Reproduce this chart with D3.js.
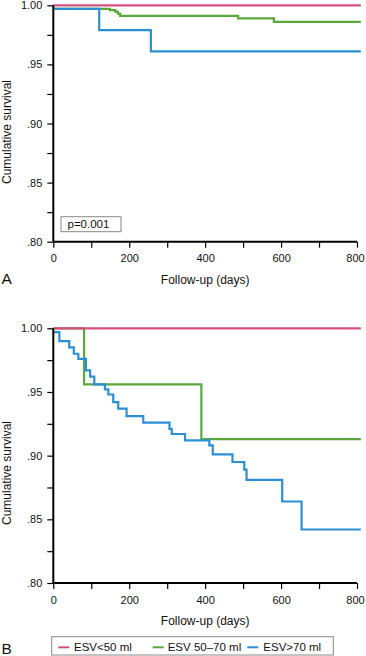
<!DOCTYPE html>
<html>
<head>
<meta charset="utf-8">
<script src="https://cdn.jsdelivr.net/npm/d3@7"></script>
<style>
  html, body { margin: 0; padding: 0; background: #fff; }
  svg { display: block; font-family: "Liberation Sans", Arial, sans-serif; }
</style>
</head>
<body>
<svg id="chart" width="366" height="656"></svg>
<script>
// ---- Data ----
const seriesNames = ["ESV<50 ml", "ESV 50\u201370 ml", "ESV>70 ml"];
const seriesColors = ["#d6507c", "#5aa83c", "#2b8fd6"];

// Panel A
const aRedDays   = [0];
const aRedSurv   = [1.0];
const aGreenDays = [0, 149, 163, 170, 176, 487, 581];
const aGreenSurv = [0.997, 0.996, 0.9946, 0.993, 0.991, 0.989, 0.986];
const aBlueDays  = [0, 121, 257];
const aBlueSurv  = [0.997, 0.979, 0.961];

// Panel B
const bRedDays   = [0];
const bRedSurv   = [1.0];
const bGreenDays = [0, 81, 390];
const bGreenSurv = [1.0, 0.956, 0.913];
const bBlueDays  = [0, 16, 42, 54, 66, 86, 97, 108, 136, 145, 158, 171, 193, 237, 306, 312, 347, 411, 420, 472, 503, 509, 603, 654];
const bBlueSurv  = [0.997, 0.990, 0.985, 0.980, 0.976, 0.967, 0.962, 0.956, 0.952, 0.948, 0.942, 0.937, 0.931, 0.926, 0.921, 0.917, 0.912, 0.908, 0.901, 0.895, 0.889, 0.881, 0.864, 0.842];

const followUpEnd = 810;
const xTickValues = [0, 100, 200, 300, 400, 500, 600, 700, 800];
const xTickLabels = ["0", "", "200", "", "400", "", "600", "", "800"];
const yTickValues = [0.8, 0.825, 0.85, 0.875, 0.9, 0.925, 0.95, 0.975, 1.0];
const yTickLabels = [".80", "", ".85", "", ".90", "", ".95", "", "1.00"];

const pValueText = "p=0.001";
const xTitle = "Follow-up (days)";
const yTitle = "Cumulative survival";

// ---- Drawing ----
const svg = d3.select("#chart");
const x = d3.scaleLinear().domain([0, 800]).range([53.3, 357]);

function panel(yRange, series, label, labelY, yTitleY, pBox) {
  const y = d3.scaleLinear().domain([0.8, 1.0]).range(yRange);
  const g = svg.append("g");

  const line = d3.line().x(d => x(d[0])).y(d => y(d[1])).curve(d3.curveStepAfter);
  series.forEach(s => {
    const pts = s.days.map((d, i) => [d, s.surv[i]]);
    pts.push([followUpEnd, s.surv[s.surv.length - 1]]);
    g.append("path").datum(pts)
      .attr("d", line)
      .attr("fill", "none")
      .attr("stroke", s.color)
      .attr("stroke-width", 2.2)
      .attr("stroke-linejoin", "miter");
  });

  const yAxis = d3.axisLeft(y).tickValues(yTickValues)
    .tickFormat((d, i) => yTickLabels[i]).tickSize(6).tickPadding(5);
  const ya = g.append("g").attr("transform", `translate(${x(0)},0)`).call(yAxis);
  ya.select(".domain").attr("stroke", "#000").attr("stroke-width", 2).attr("d", `M0,${y(1)}V${y(0.8)}`);
  ya.selectAll(".tick line").attr("stroke", "#000").attr("stroke-width", 1.2);
  ya.selectAll(".tick text").attr("font-size", 11).attr("fill", "#111")
    .attr("font-family", "Liberation Sans, Arial, sans-serif");

  const xAxis = d3.axisBottom(x).tickValues(xTickValues)
    .tickFormat((d, i) => xTickLabels[i]).tickSize(6).tickPadding(7);
  const xa = g.append("g").attr("transform", `translate(0,${y(0.8)})`).call(xAxis);
  xa.select(".domain").attr("stroke", "#000").attr("stroke-width", 2).attr("d", `M${x(0)},0H${x(800)}`);
  xa.selectAll(".tick line").attr("stroke", "#000").attr("stroke-width", 1.2);
  xa.selectAll(".tick text").attr("font-size", 11).attr("fill", "#111")
    .attr("font-family", "Liberation Sans, Arial, sans-serif");
  xa.selectAll(".tick text").filter((d) => d === 800).attr("dx", -2);

  g.append("text").attr("x", (x(0) + x(800)) / 2).attr("y", y(0.8) + 42)
    .attr("text-anchor", "middle").attr("font-size", 12).attr("fill", "#111").text(xTitle);
  g.append("text").attr("transform", `translate(11,${yTitleY}) rotate(-90)`)
    .attr("text-anchor", "middle").attr("font-size", 12).attr("fill", "#111").text(yTitle);

  g.append("text").attr("x", 1.5).attr("y", labelY)
    .attr("font-size", 15.5).attr("fill", "#111").text(label);

  if (pBox) {
    g.append("rect").attr("x", 61).attr("y", 216.7).attr("width", 60).attr("height", 15)
      .attr("fill", "#fff").attr("stroke", "#888").attr("stroke-width", 1);
    g.append("text").attr("x", 67.5).attr("y", 228.3).attr("font-size", 11.5)
      .attr("fill", "#111").text(pValueText);
  }
  return y;
}

panel([241.7, 5.3], [
  { days: aGreenDays, surv: aGreenSurv, color: seriesColors[1] },
  { days: aBlueDays,  surv: aBlueSurv,  color: seriesColors[2] },
  { days: aRedDays,   surv: aRedSurv,   color: seriesColors[0] }
], "A", 284, 132, true);

panel([583, 328.3], [
  { days: bGreenDays, surv: bGreenSurv, color: seriesColors[1] },
  { days: bBlueDays,  surv: bBlueSurv,  color: seriesColors[2] },
  { days: bRedDays,   surv: bRedSurv,   color: seriesColors[0] }
], "B", 653.5, 473, false);

const leg = svg.append("g");
leg.append("rect").attr("x", 51.7).attr("y", 636.7).attr("width", 281.6).attr("height", 18.3)
  .attr("fill", "#fff").attr("stroke", "#888").attr("stroke-width", 1);
const legLineX = [58.3, 152.7, 247.3];
const legTextX = [74, 167.7, 263.3];
seriesNames.forEach((name, i) => {
  leg.append("line").attr("x1", legLineX[i]).attr("x2", legLineX[i] + 11)
    .attr("y1", 647.3).attr("y2", 647.3)
    .attr("stroke", seriesColors[i]).attr("stroke-width", 2);
  leg.append("text").attr("x", legTextX[i]).attr("y", 651).attr("font-size", 11.5)
    .attr("fill", "#111").text(name);
});
</script>
</body>
</html>
